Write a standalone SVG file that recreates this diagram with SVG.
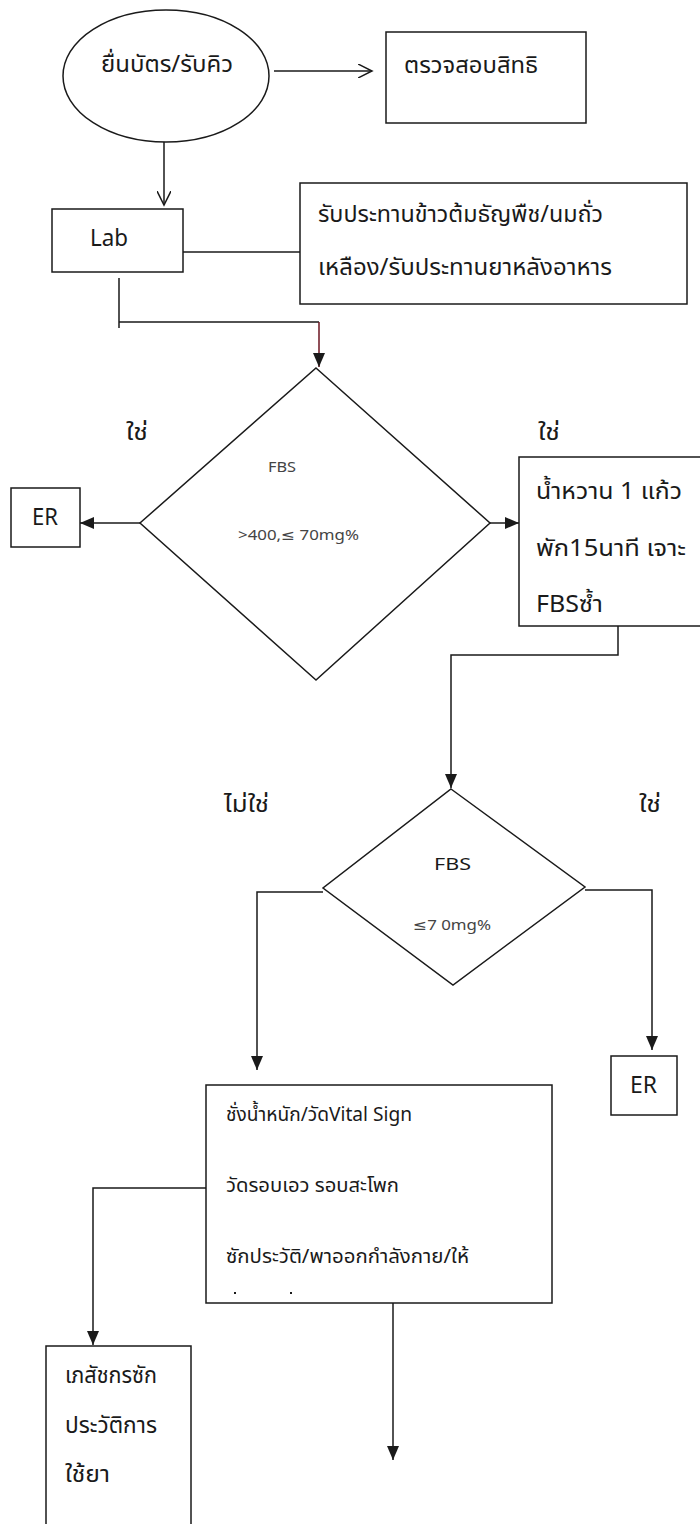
<svg xmlns="http://www.w3.org/2000/svg" width="700" height="1524" viewBox="0 0 700 1524">
<style>
  .shape { fill: #ffffff; stroke: #1a1a1a; stroke-width: 1.5; }
  .conn { fill: none; stroke: #1a1a1a; stroke-width: 1.5; }
  .red { stroke: #6b1520; }
  .t { font-family: "Noto Sans Thai", "Noto Sans", "DejaVu Sans", sans-serif; fill: #1a1a1a; }
  .big { font-size: 23px; }
  .body { font-size: 20px; }
  .mid { font-size: 17px; }
  .small { font-size: 14px; fill: #444444; }
</style>
<defs>
  <marker id="open" markerUnits="userSpaceOnUse" markerWidth="16" markerHeight="14" refX="14" refY="7" orient="auto">
    <path d="M0,0 L14,7 L0,14" fill="none" stroke="#1a1a1a" stroke-width="1.5"/>
  </marker>
  <marker id="fill" markerUnits="userSpaceOnUse" markerWidth="14" markerHeight="12" refX="14" refY="6" orient="auto">
    <path d="M0,0 L14,6 L0,12 z" fill="#1a1a1a"/>
  </marker>
</defs>
<rect width="700" height="1524" fill="#ffffff"/>

<g id="connectors">
  <path class="conn" d="M274,71 L372,71" marker-end="url(#open)"/>
  <path class="conn" d="M164,142 L164,205" marker-end="url(#open)"/>
  <path class="conn" d="M183,252 L300,252"/>
  <path class="conn" d="M119,278 L119,328 M119,322 L319,322"/>
  <path class="conn red" d="M319,322 L319,367" marker-end="url(#fill)"/>
  <path class="conn" d="M140,523 L80,523" marker-end="url(#fill)"/>
  <path class="conn" d="M490,523 L519,523" marker-end="url(#fill)"/>
  <path class="conn" d="M618,613 L618,655 L451,655 L451,788" marker-end="url(#fill)"/>
  <path class="conn" d="M323,892 L257,892 L257,1070" marker-end="url(#fill)"/>
  <path class="conn" d="M585,890 L652,890 L652,1050" marker-end="url(#fill)"/>
  <path class="conn" d="M206,1188 L93,1188 L93,1345" marker-end="url(#fill)"/>
  <path class="conn" d="M393,1303 L393,1460" marker-end="url(#fill)"/>
</g>

<g id="node-start">
  <ellipse class="shape" cx="166" cy="76" rx="103" ry="66"/>
  <text class="t big" x="101" y="72" textLength="132" lengthAdjust="spacingAndGlyphs">ยื่นบัตร/รับคิว</text>
</g>

<g id="node-check">
  <rect class="shape" x="386" y="32" width="200" height="91"/>
  <text class="t big" x="404" y="73" textLength="134" lengthAdjust="spacingAndGlyphs">ตรวจสอบสิทธิ</text>
</g>

<g id="node-lab">
  <rect class="shape" x="52" y="209" width="131" height="63"/>
  <text class="t big" x="90" y="246" textLength="38" lengthAdjust="spacingAndGlyphs">Lab</text>
</g>

<g id="node-meal">
  <rect class="shape" x="300" y="183" width="387" height="121"/>
  <text class="t big" x="318" y="222" textLength="285" lengthAdjust="spacingAndGlyphs">รับประทานข้าวต้มธัญพืช/นมถั่ว</text>
  <text class="t big" x="318" y="275" textLength="294" lengthAdjust="spacingAndGlyphs">เหลือง/รับประทานยาหลังอาหาร</text>
</g>

<g id="node-fbs1">
  <polygon class="shape" points="316,368 490,523 316,680 140,523"/>
  <text class="t small" x="268" y="472" textLength="28" lengthAdjust="spacingAndGlyphs">FBS</text>
  <text class="t small" x="238" y="540" textLength="121" lengthAdjust="spacingAndGlyphs">&gt;400,≤ 70mg%</text>
</g>

<g id="label-yes1">
  <text class="t big" x="126" y="440" textLength="22" lengthAdjust="spacingAndGlyphs">ใช่</text>
</g>
<g id="label-yes2">
  <text class="t big" x="538" y="440" textLength="22" lengthAdjust="spacingAndGlyphs">ใช่</text>
</g>

<g id="node-er1">
  <rect class="shape" x="11" y="488" width="69" height="59"/>
  <text class="t big" x="32" y="525" textLength="26" lengthAdjust="spacingAndGlyphs">ER</text>
</g>

<g id="node-sweet">
  <rect class="shape" x="519" y="457" width="190" height="169"/>
  <text class="t big" x="536" y="499" textLength="146" lengthAdjust="spacingAndGlyphs">น้ำหวาน 1 แก้ว</text>
  <text class="t big" x="536" y="556" textLength="150" lengthAdjust="spacingAndGlyphs">พัก15นาที เจาะ</text>
  <text class="t big" x="536" y="612" textLength="67" lengthAdjust="spacingAndGlyphs">FBSซ้ำ</text>
</g>

<g id="node-fbs2">
  <polygon class="shape" points="451,789 585,887 453,985 323,888"/>
  <text class="t mid" x="434" y="870" textLength="37" lengthAdjust="spacingAndGlyphs">FBS</text>
  <text class="t small" x="413" y="930" textLength="78" lengthAdjust="spacingAndGlyphs">≤7 0mg%</text>
</g>

<g id="label-no">
  <text class="t big" x="224" y="812" textLength="45" lengthAdjust="spacingAndGlyphs">ไม่ใช่</text>
</g>
<g id="label-yes3">
  <text class="t big" x="639" y="812" textLength="22" lengthAdjust="spacingAndGlyphs">ใช่</text>
</g>

<g id="node-er2">
  <rect class="shape" x="611" y="1056" width="66" height="59"/>
  <text class="t big" x="630" y="1093" textLength="27" lengthAdjust="spacingAndGlyphs">ER</text>
</g>

<g id="node-assess">
  <rect class="shape" x="206" y="1085" width="346" height="218"/>
  <text class="t body" x="226" y="1121" textLength="186" lengthAdjust="spacingAndGlyphs">ชั่งน้ำหนัก/วัดVital Sign</text>
  <text class="t body" x="226" y="1192" textLength="173" lengthAdjust="spacingAndGlyphs">วัดรอบเอว รอบสะโพก</text>
  <text class="t body" x="226" y="1263" textLength="243" lengthAdjust="spacingAndGlyphs">ซักประวัติ/พาออกกำลังกาย/ให้</text>
  <rect x="234" y="1292" width="2" height="2" fill="#1a1a1a"/>
  <rect x="290" y="1292" width="2" height="2" fill="#1a1a1a"/>
</g>

<g id="node-pharm">
  <rect class="shape" x="46" y="1346" width="145" height="190"/>
  <text class="t big" x="65" y="1383" textLength="92" lengthAdjust="spacingAndGlyphs">เภสัชกรซัก</text>
  <text class="t big" x="65" y="1433" textLength="92" lengthAdjust="spacingAndGlyphs">ประวัติการ</text>
  <text class="t big" x="65" y="1482" textLength="45" lengthAdjust="spacingAndGlyphs">ใช้ยา</text>
</g>
</svg>
